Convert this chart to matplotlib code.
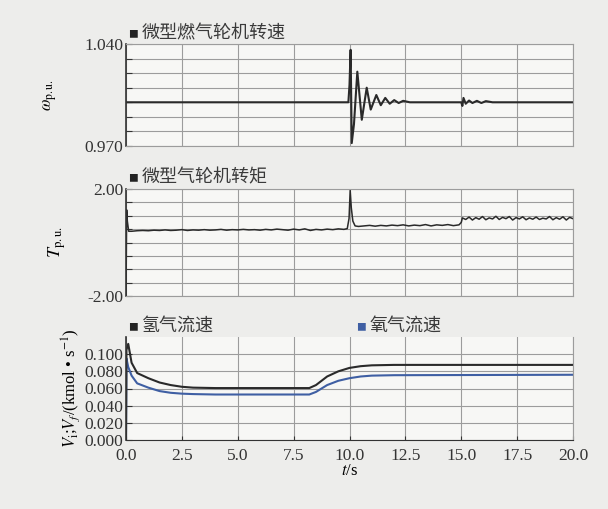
import numpy as np
import matplotlib.pyplot as plt

plt.rcParams['font.family'] = ['Liberation Serif', 'Noto Sans CJK SC', 'DejaVu Sans']
plt.rcParams['mathtext.fontset'] = 'stix'

# ---- data ----
# speed (p.u.)
t_speed = [0.0, 9.95, 10.0, 10.05, 10.1, 10.2, 10.35, 10.55, 10.77, 10.95, 11.2, 11.4,
           11.6, 11.8, 12.0, 12.2, 12.4, 12.7, 15.0, 15.05, 15.1, 15.2, 15.35, 15.5,
           15.7, 15.9, 16.1, 16.4, 20.0]
speed = [1.000, 1.000, 1.012, 1.036, 0.972, 0.985, 1.021, 0.988, 1.010, 0.995, 1.005, 0.998,
         1.003, 0.999, 1.0015, 0.9995, 1.001, 1.000, 1.000, 0.9975, 1.003, 0.999, 1.0012, 0.9995,
         1.001, 0.9995, 1.0008, 1.000, 1.000]

# torque (p.u.)
t_torque = [0.0, 0.03, 0.06, 0.12, 0.25, 0.5, 0.75, 1.0, 1.25, 1.5, 1.75, 2.0, 2.25, 2.5,
            2.75, 3.0, 3.25, 3.5, 3.75, 4.0, 4.25, 4.5, 4.75, 5.0, 5.25, 5.5, 5.75, 6.0,
            6.25, 6.5, 6.75, 7.0, 7.25, 7.5, 7.75, 8.0, 8.25, 8.5, 8.75, 9.0, 9.25, 9.5,
            9.75, 9.9, 9.98, 10.03, 10.08, 10.15, 10.25, 10.4, 10.65, 10.9, 11.15, 11.4,
            11.65, 11.9, 12.15, 12.4, 12.65, 12.9, 13.15, 13.4, 13.65, 13.9, 14.15, 14.4,
            14.65, 14.9, 15.0, 15.05, 15.2, 15.35, 15.5, 15.65, 15.8, 15.95, 16.1, 16.25,
            16.4, 16.55, 16.7, 16.85, 17.0, 17.15, 17.3, 17.45, 17.6, 17.75, 17.9, 18.05,
            18.2, 18.35, 18.5, 18.65, 18.8, 18.95, 19.1, 19.25, 19.4, 19.55, 19.7, 19.85, 20.0]
torque = [-2.0, 1.22, 0.8, 0.42, 0.42, 0.44, 0.45, 0.44, 0.46, 0.45, 0.47, 0.45, 0.46, 0.48,
          0.45, 0.47, 0.46, 0.48, 0.46, 0.47, 0.49, 0.46, 0.48, 0.47, 0.49, 0.47, 0.48, 0.46,
          0.49, 0.47, 0.50, 0.48, 0.46, 0.50, 0.47, 0.51, 0.45, 0.49, 0.47, 0.50, 0.48, 0.51,
          0.49, 0.52, 0.9, 1.95, 1.3, 0.8, 0.62, 0.60, 0.62, 0.64, 0.61, 0.64,
          0.62, 0.65, 0.63, 0.66, 0.62, 0.65, 0.63, 0.67, 0.62, 0.66, 0.64, 0.67,
          0.63, 0.66, 0.75, 0.92, 0.86, 0.95, 0.84, 0.93, 0.87, 0.97, 0.85, 0.92,
          0.88, 0.98, 0.86, 0.94, 0.89, 0.97, 0.84, 0.93, 0.88, 0.96, 0.85, 0.92,
          0.87, 0.95, 0.86, 0.91, 0.88, 0.97, 0.85, 0.93, 0.87, 0.96, 0.84, 0.94, 0.89]

# hydrogen / oxygen flow (kmol/s)
t_flow = [0.0, 0.02, 0.1, 0.25, 0.5, 1.0, 1.5, 2.0, 2.5, 3.0, 4.0, 8.2, 8.5, 9.0, 9.5,
          10.0, 10.5, 11.0, 12.0, 20.0]
h2_flow = [0.0, 0.105, 0.112, 0.090, 0.078, 0.072, 0.067, 0.064, 0.062, 0.061, 0.0605,
           0.0605, 0.064, 0.074, 0.080, 0.084, 0.086, 0.087, 0.0875, 0.0875]
o2_flow = [0.0, 0.095, 0.085, 0.075, 0.066, 0.061, 0.057, 0.055, 0.054, 0.0535, 0.053,
           0.053, 0.056, 0.064, 0.069, 0.072, 0.074, 0.075, 0.0755, 0.076]

speed_ticks = [0.970, 0.980, 0.990, 1.000, 1.010, 1.020, 1.030, 1.040]
torque_ticks = [-2.0, -1.5, -1.0, -0.5, 0.0, 0.5, 1.0, 1.5, 2.0]
flow_ticks = [0.000, 0.020, 0.040, 0.060, 0.080, 0.100]
x_ticks = [0.0, 2.5, 5.0, 7.5, 10.0, 12.5, 15.0, 17.5, 20.0]

line_c = '#2a2a2a'
blue_c = '#3f5fa3'
grid_c = '#9c9c9c'
cjk = ['Noto Sans CJK SC', 'DejaVu Sans']

fig = plt.figure(figsize=(6.08, 5.09), dpi=100, facecolor='#ededeb')
left, width = 126 / 608, 447 / 608
ax1 = fig.add_axes([left, 1 - 146 / 509, width, 102 / 509])
ax2 = fig.add_axes([left, 1 - 296 / 509, width, 107 / 509])
ax3 = fig.add_axes([left, 1 - 440 / 509, width, 103 / 509])


def style(ax, yticks, labels):
    ax.set_facecolor('#f7f7f5')
    ax.set_xlim(0, 20)
    ax.set_xticks(x_ticks)
    ax.set_yticks(yticks, labels=labels)
    ax.grid(True, color=grid_c, linewidth=0.8)
    for s in ['top', 'right', 'bottom']:
        ax.spines[s].set_color(grid_c)
        ax.spines[s].set_linewidth(0.8)
    ax.spines['left'].set_color('#333333')
    ax.spines['left'].set_linewidth(1.2)
    ax.tick_params(axis='y', direction='in', length=4, color='#333333', labelsize=12.5,
                   pad=2, labelcolor='#333333')
    ax.tick_params(axis='x', length=0, labelbottom=False)


def key(ax, x, text, color='#222222'):
    # small square marker followed by the series name
    ax.text(x, 1.05, '■', transform=ax.transAxes, fontsize=7, family=cjk,
            color=color, va='bottom')
    ax.text(x + 0.03, 1.02, text, transform=ax.transAxes, fontsize=13,
            family=cjk, color='#3a3a3a', va='bottom')


# speed
ax1.plot(t_speed, speed, color=line_c, linewidth=1.5)
ax1.set_ylim(0.970, 1.040)
style(ax1, speed_ticks, ['0.970', '', '', '', '', '', '', '1.040'])
ax1.set_ylabel(r'$\omega_{\mathrm{p.u.}}$', fontsize=12, labelpad=18)
key(ax1, 0.005, '微型燃气轮机转速')

# torque
ax2.plot(t_torque, torque, color=line_c, linewidth=1.1)
ax2.set_ylim(-2.0, 2.0)
style(ax2, torque_ticks, ['-2.00', '', '', '', '', '', '', '', '2.00'])
ax2.set_ylabel(r'$T_{\mathrm{p.u.}}$', fontsize=13, labelpad=14)
key(ax2, 0.005, '微型气轮机转矩')

# flows
ax3.plot(t_flow, o2_flow, color=blue_c, linewidth=1.5)
ax3.plot(t_flow, h2_flow, color=line_c, linewidth=1.5)
ax3.set_ylim(0.0, 0.12)
style(ax3, flow_ticks, ['0.000', '0.020', '0.040', '0.060', '0.080', '0.100'])
ax3.spines['top'].set_visible(False)
ax3.spines['bottom'].set_color('#333333')
ax3.tick_params(axis='x', direction='in', length=3, color='#333333', labelsize=12.5,
                labelbottom=True, pad=6, labelcolor='#333333')
ax3.set_xticklabels(['0.0', '2.5', '5.0', '7.5', '10.0', '12.5', '15.0', '17.5', '20.0'])
ax3.set_xlabel(r'$t$/s', fontsize=12, labelpad=-1)
ax3.set_ylabel(r'$V_{\mathrm{i}}$;$V_{f}$/(kmol • s$^{-1}$)', fontsize=12, labelpad=2)
key(ax3, 0.005, '氢气流速')
key(ax3, 0.515, '氧气流速', color=blue_c)

fig.savefig('out.png', dpi=100, facecolor=fig.get_facecolor())
